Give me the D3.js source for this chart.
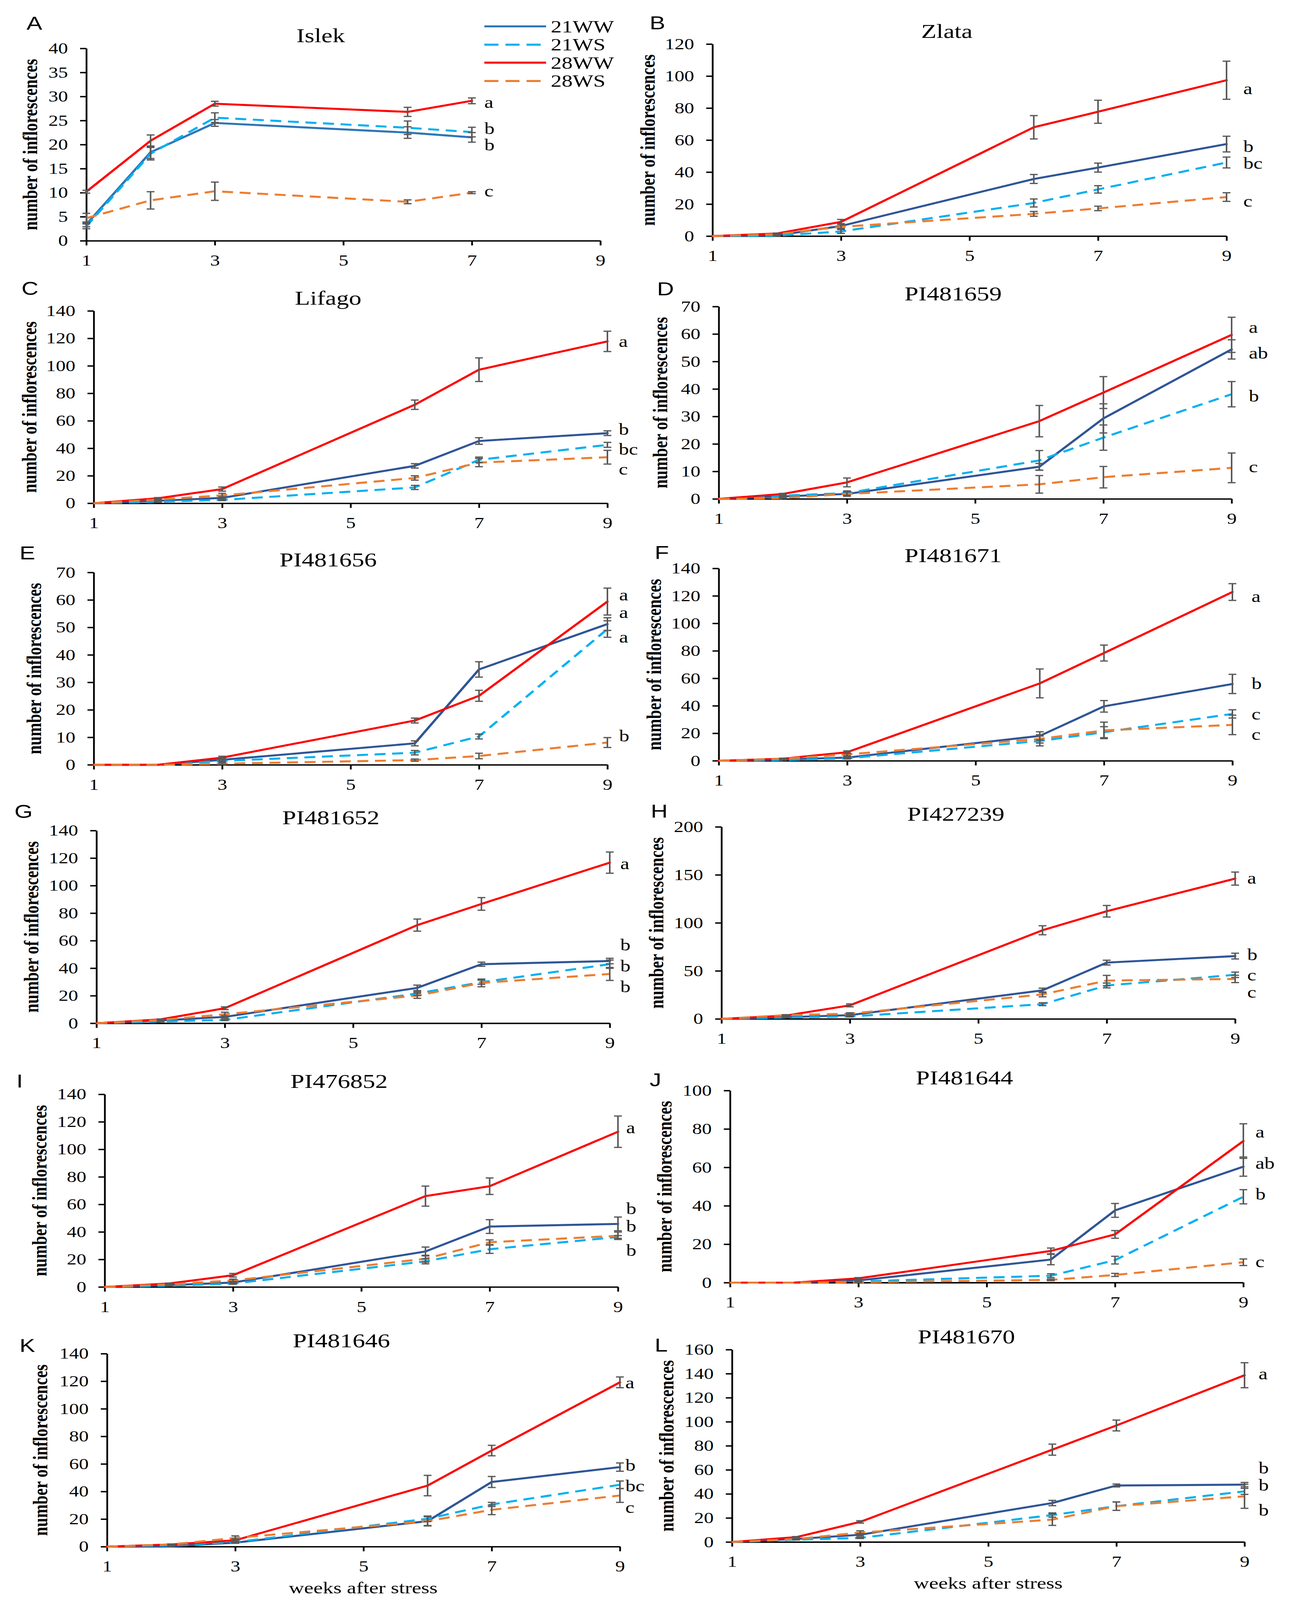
<!DOCTYPE html>
<html><head><meta charset="utf-8">
<script src="https://cdn.jsdelivr.net/npm/d3@7"></script>
<style>html,body{margin:0;padding:0;background:#fff;overflow:hidden} svg{display:block;width:100vw;height:100vh}</style>
</head><body>
<svg id="chart" viewBox="0 0 3305 5157" preserveAspectRatio="none"></svg>
<script>
// ---------------- DATA ----------------
const weeks = [1, 2, 3, 6, 7, 9];
const weeksA = [1, 2, 3, 6, 7];
const xTickValues = [1, 3, 5, 7, 9];
const panelLetters = ["A","B","C","D","E","F","G","H","I","J","K","L"];
const titles = ["Islek","Zlata","Lifago","PI481659","PI481656","PI481671","PI481652","PI427239","PI476852","PI481644","PI481646","PI481670"];
const yMax  = [40, 120, 140, 70, 70, 140, 140, 200, 140, 100, 140, 160];
const yStep = [5, 20, 20, 10, 10, 20, 20, 50, 20, 20, 20, 20];
const seriesNames = ["21WW", "21WS", "28WW", "28WS"];

const ww21 = [
  [3.4, 18.4, 24.5, 22.5, 21.5],
  [0, 0.5, 6.3, 35.7, 42.8, 57.5],
  [0, 1.8, 3.9, 27.2, 45.3, 51.0],
  [0, 0.9, 1.8, 11.7, 29.3, 54.4],
  [0, 0, 1.8, 7.8, 34.7, 51.2],
  [0, 0.9, 2.3, 18.1, 39.6, 55.9],
  [0, 2.0, 4.6, 25.7, 42.9, 45.2],
  [0, 1.7, 3.9, 29.7, 58.6, 65.4],
  [0, 1.3, 3.2, 25.8, 43.9, 45.8],
  [0, 0, 1.1, 12.0, 37.6, 60.4],
  [0, 0.3, 2.9, 18.5, 46.9, 57.7],
  [0, 2.5, 6.0, 32.4, 47.0, 47.7]
];
const ww21Err = [
  [0.5, 1.3, 0.7, 1.2, 1.0],
  [0, 0.3, 1.5, 2.8, 2.8, 4.9],
  [0, 0.3, 0.8, 1.6, 2.4, 1.7],
  [0, 0.2, 0.8, 1.2, 5.3, 3.5],
  [0, 0, 0.5, 0.9, 2.8, 2.3],
  [0, 0.2, 0.6, 3.0, 4.2, 7.0],
  [0, 0.3, 0.8, 2.0, 1.5, 2.0],
  [0, 0.3, 1.0, 2.3, 2.5, 3.0],
  [0, 0.2, 0.8, 3.2, 5.0, 5.0],
  [0, 0, 0.3, 2.7, 3.6, 5.0],
  [0, 0.1, 0.5, 3.2, 4.0, 3.0],
  [0, 0.3, 1.0, 2.2, 1.2, 1.8]
];
const ws21 = [
  [3.0, 18.1, 25.6, 23.5, 22.6],
  [0, 0.3, 2.9, 20.7, 29.2, 46.0],
  [0, 1.1, 2.4, 11.5, 31.6, 42.5],
  [0, 1.2, 2.1, 14.0, 22.3, 38.1],
  [0, 0, 1.4, 4.4, 10.3, 49.4],
  [0, 0.5, 1.8, 14.4, 20.8, 34.1],
  [0, 1.2, 2.4, 21.6, 29.8, 42.9],
  [0, 1.4, 2.5, 15.3, 34.8, 45.9],
  [0, 0.9, 2.5, 18.6, 27.4, 36.3],
  [0, 0, 0.6, 3.6, 11.7, 44.7],
  [0, 1.0, 3.3, 20.2, 30.6, 44.9],
  [0, 1.9, 3.4, 22.4, 29.8, 42.1]
];
const ws21Err = [
  [0.5, 1.3, 1.0, 1.4, 1.0],
  [0, 0.2, 1.2, 2.5, 2.3, 3.4],
  [0, 0.2, 0.5, 1.5, 2.0, 1.8],
  [0, 0.2, 0.8, 3.6, 4.6, 4.6],
  [0, 0, 0.4, 0.8, 0.9, 3.0],
  [0, 0.1, 0.5, 3.6, 4.0, 3.0],
  [0, 0.2, 0.5, 1.5, 1.5, 3.0],
  [0, 0.2, 0.5, 1.5, 2.5, 2.8],
  [0, 0.2, 0.5, 1.8, 3.0, 1.0],
  [0, 0, 0.2, 1.0, 2.0, 3.7],
  [0, 0.2, 0.5, 2.0, 1.5, 2.7],
  [0, 0.2, 0.5, 1.8, 3.5, 2.5]
];
const ww28 = [
  [10.2, 20.8, 28.5, 26.8, 29.1],
  [0, 1.6, 8.9, 68.0, 77.7, 97.4],
  [0, 3.6, 10.3, 71.7, 97.2, 117.8],
  [0, 1.8, 6.0, 28.3, 38.7, 59.7],
  [0, 0, 2.6, 16.1, 25.1, 59.4],
  [0, 1.5, 6.2, 56.3, 78.4, 122.8],
  [0, 2.8, 10.9, 71.3, 86.7, 116.7],
  [0, 3.4, 14.1, 92.3, 112.1, 146.1],
  [0, 2.5, 8.5, 66.0, 73.2, 112.8],
  [0, 0, 2.2, 16.5, 25.1, 73.7],
  [0, 1.6, 4.6, 44.3, 69.7, 119.2],
  [0, 4.0, 16.7, 76.8, 96.9, 138.7]
];
const ww28Err = [
  [0.3, 1.2, 0.5, 0.95, 0.6],
  [0, 0.3, 1.5, 7.3, 7.2, 11.9],
  [0, 0.5, 1.5, 3.4, 8.6, 7.4],
  [0, 0.2, 1.6, 5.7, 5.8, 6.4],
  [0, 0, 0.5, 0.9, 2.0, 4.9],
  [0, 0.3, 1.0, 10.5, 5.8, 6.1],
  [0, 0.3, 1.0, 4.4, 4.6, 7.7],
  [0, 0.5, 1.5, 4.7, 6.0, 6.8],
  [0, 0.3, 1.3, 7.3, 6.0, 11.4],
  [0, 0, 0.4, 1.5, 2.0, 9.0],
  [0, 0.3, 1.0, 7.4, 3.8, 3.9],
  [0, 0.5, 1.0, 4.6, 4.5, 10.4]
];
const ws28 = [
  [4.7, 8.4, 10.3, 8.1, 10.0],
  [0, 1.2, 5.8, 13.9, 17.3, 24.4],
  [0, 2.7, 5.7, 18.4, 29.6, 33.5],
  [0, 0.3, 1.8, 5.3, 7.9, 11.3],
  [0, 0, 0.4, 1.7, 3.2, 8.1],
  [0, 1.5, 4.6, 15.9, 22.1, 26.1],
  [0, 2.4, 6.5, 20.1, 29.3, 35.8],
  [0, 3.9, 5.4, 25.5, 39.9, 41.6],
  [0, 1.9, 4.7, 20.5, 32.5, 37.2],
  [0, 0, 0.2, 1.4, 4.0, 10.6],
  [0, 1.6, 6.3, 18.5, 26.7, 37.1],
  [0, 2.5, 7.8, 18.6, 29.8, 38.0]
];
const ws28Err = [
  [1.0, 1.8, 1.9, 0.4, 0.2],
  [0, 0.3, 1.5, 1.5, 1.4, 2.7],
  [0, 0.3, 1.5, 1.6, 3.0, 5.0],
  [0, 0.1, 0.8, 3.2, 3.9, 5.4],
  [0, 0, 0.3, 0.4, 1.0, 1.8],
  [0, 0.3, 1.0, 3.0, 6.0, 7.1],
  [0, 0.3, 1.5, 2.0, 2.8, 4.7],
  [0, 0.5, 1.0, 2.5, 5.4, 3.8],
  [0, 0.3, 1.0, 2.5, 1.7, 2.7],
  [0, 0, 0.1, 0.4, 0.8, 1.7],
  [0, 0.3, 1.5, 3.5, 3.5, 5.0],
  [0, 0.3, 1.5, 4.8, 3.5, 10.0]
];
const sigLetters = [
  ["a","b","b","c"], ["a","b","bc","c"], ["a","b","bc","c"], ["a","ab","b","c"],
  ["a","a","a","b"], ["a","b","c","c"], ["a","b","b","b"], ["a","b","c","c"],
  ["a","b","b","b"], ["a","ab","b","c"], ["a","b","bc","c"], ["a","b","b","b"]
];
const sigValues = [
  [28.7, 23.2, 19.8, 10.2], [91.9, 55.6, 45.1, 21.5], [117.4, 53.4, 38.9, 24.4], [62.3, 52.9, 37.2, 11.5],
  [61.7, 55.2, 46.3, 10.3], [119.3, 55.7, 33.5, 18.7], [115.7, 56.5, 41.1, 26.3], [146.0, 66.3, 45.0, 27.2],
  [115.3, 56.5, 43.9, 26.2], [78.1, 61.8, 45.9, 10.6], [118.5, 58.6, 43.6, 28.0], [139.4, 61.1, 47.0, 26.2]
];

// ---------------- LAYOUT (pixels, in the 3305x5157 figure space) ----------------
const layout = [
  {x0:221,  x9:1537, y0:776,  yTop:156,  lx:68,   ly:96,   ylabX:95,   sigDx:32},
  {x0:1824, x9:3140, y0:761,  yTop:142,  lx:1663, ly:95,   ylabX:1676, sigDx:43},
  {x0:240,  x9:1555, y0:1622, yTop:1002, lx:55,   ly:951,  ylabX:93,   sigDx:29},
  {x0:1840, x9:3153, y0:1608, yTop:988,  lx:1682, ly:952,  ylabX:1708, sigDx:44},
  {x0:240,  x9:1555, y0:2465, yTop:1845, lx:50,   ly:1803, ylabX:105,  sigDx:30},
  {x0:1840, x9:3155, y0:2452, yTop:1832, lx:1676, ly:1802, ylabX:1692, sigDx:49},
  {x0:247,  x9:1561, y0:3298, yTop:2677, lx:37,   ly:2637, ylabX:98,   sigDx:27},
  {x0:1847, x9:3162, y0:3284, yTop:2665, lx:1666, ly:2635, ylabX:1698, sigDx:31},
  {x0:268,  x9:1582, y0:4148, yTop:3527, lx:42,   ly:3505, ylabX:119,  sigDx:21},
  {x0:1869, x9:3183, y0:4134, yTop:3515, lx:1663, ly:3502, ylabX:1719, sigDx:31},
  {x0:274,  x9:1587, y0:4985, yTop:4363, lx:50,   ly:4357, ylabX:121,  sigDx:14},
  {x0:1874, x9:3186, y0:4970, yTop:4350, lx:1676, ly:4356, ylabX:1724, sigDx:36}
];

const SERIF = "'Liberation Serif','Times New Roman',serif";
const SANS = "'Liberation Sans',Arial,sans-serif";
const colors = {"21WW":"#2F5597", "21WS":"#00B0F0", "28WW":"#FF0000", "28WS":"#ED7D31"};
const dashes = {"21WW":null, "21WS":"28,17", "28WW":null, "28WS":"28,17"};
const LW = 6.5;

const svg = d3.select("#chart");
svg.append("rect").attr("width",3305).attr("height",5157).attr("fill","#fff");

const allSeries = [ww21, ws21, ww28, ws28];
const allErr = [ww21Err, ws21Err, ww28Err, ws28Err];

layout.forEach((L, p) => {
  const g = svg.append("g");
  const wk = p === 0 ? weeksA : weeks;
  const x = d3.scaleLinear().domain([1, 9]).range([L.x0, L.x9]);
  const y = d3.scaleLinear().domain([0, yMax[p]]).range([L.y0, L.yTop]);

  const yTicks = d3.range(0, yMax[p] + 1e-9, yStep[p]);
  const ya = g.append("g").attr("transform", `translate(${L.x0},0)`)
    .call(d3.axisLeft(y).tickValues(yTicks).tickSize(16).tickSizeOuter(0).tickPadding(31));
  const xa = g.append("g").attr("transform", `translate(0,${L.y0})`)
    .call(d3.axisBottom(x).tickValues(xTickValues).tickSize(15).tickSizeOuter(0).tickPadding(30));
  [ya, xa].forEach(a => {
    a.attr("font-family", SERIF).attr("font-size", 50);
    a.select(".domain").attr("stroke", "#000").attr("stroke-width", 4.5);
    a.selectAll(".tick line").attr("stroke", "#000").attr("stroke-width", 4.5);
    a.selectAll(".tick text").attr("fill", "#000");
  });

  const line = d3.line().x(d => x(d[0])).y(d => y(d[1]));
  seriesNames.forEach((name, s) => {
    const vals = allSeries[s][p];
    const pts = wk.map((w, i) => [w, vals[i]]);
    const col = (p === 0 && name === "21WW") ? "#2E75B6" : colors[name];
    g.append("path").datum(pts)
      .attr("d", line)
      .attr("fill", "none")
      .attr("stroke", col)
      .attr("stroke-width", LW)
      .attr("stroke-linejoin", "round")
      .attr("stroke-linecap", dashes[name] ? "butt" : "round")
      .attr("stroke-dasharray", dashes[name]);
  });

  seriesNames.forEach((name, s) => {
    const vals = allSeries[s][p];
    const errs = allErr[s][p];
    wk.forEach((w, i) => {
      const e = errs[i];
      if (!(e > 0)) return;
      const cx = x(w), yt = y(vals[i] + e), yb = y(Math.max(0, vals[i] - e));
      const eg = g.append("g").attr("stroke", "#595959").attr("stroke-width", 4);
      eg.append("line").attr("x1", cx).attr("x2", cx).attr("y1", yt).attr("y2", yb);
      eg.append("line").attr("x1", cx - 10).attr("x2", cx + 10).attr("y1", yt).attr("y2", yt);
      eg.append("line").attr("x1", cx - 10).attr("x2", cx + 10).attr("y1", yb).attr("y2", yb);
    });
  });

  const lastW = wk[wk.length - 1];
  sigLetters[p].forEach((t, k) => {
    g.append("text")
      .attr("x", x(lastW) + L.sigDx)
      .attr("y", y(sigValues[p][k]) + 16)
      .attr("font-family", SERIF).attr("font-size", 52).attr("fill", "#000")
      .text(t);
  });

  g.append("text").attr("x", L.x0 + 600).attr("y", L.yTop - 20)
    .attr("text-anchor", "middle").attr("font-family", SERIF).attr("font-size", 64)
    .attr("fill", "#000").text(titles[p]);

  g.append("text").attr("x", L.lx).attr("y", L.ly)
    .attr("font-family", SANS).attr("font-size", 60).attr("fill", "#000")
    .text(panelLetters[p]);

  g.append("text")
    .attr("transform", `translate(${L.ylabX},${(L.y0 + L.yTop) / 2}) rotate(-90)`)
    .attr("text-anchor", "middle").attr("font-family", SERIF).attr("font-weight", "bold")
    .attr("font-size", 52).attr("fill", "#000")
    .text("number of inflorescences");

  if (p >= 10) {
    g.append("text").attr("x", L.x0 + 656).attr("y", L.y0 + (p === 10 ? 151 : 150))
      .attr("text-anchor", "middle").attr("font-family", SERIF).attr("font-size", 54)
      .attr("fill", "#000").text("weeks after stress");
  }

  if (p === 0) {
    const legRows = [85, 144, 202, 261];
    seriesNames.forEach((name, s) => {
      const col = name === "21WW" ? "#2E75B6" : colors[name];
      g.append("line").attr("x1", 1240).attr("x2", 1398)
        .attr("y1", legRows[s]).attr("y2", legRows[s])
        .attr("stroke", col).attr("stroke-width", LW)
        .attr("stroke-dasharray", dashes[name] ? "36,18" : null);
      g.append("text").attr("x", 1410).attr("y", legRows[s] + 19)
        .attr("font-family", SERIF).attr("font-size", 56).attr("fill", "#000")
        .text(name);
    });
  }
});
</script>
</body></html>
